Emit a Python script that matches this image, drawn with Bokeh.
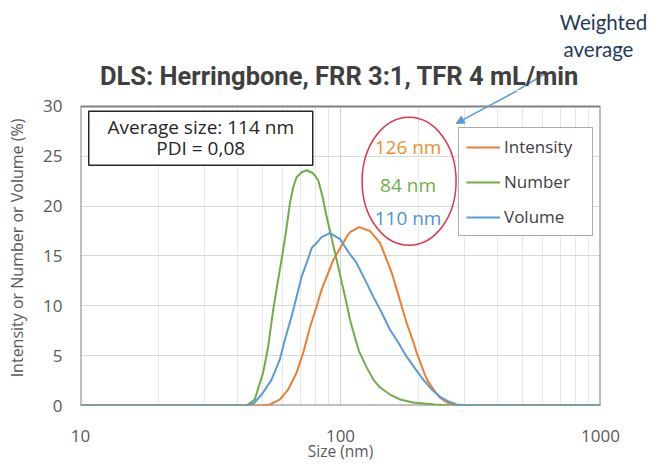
from bokeh.plotting import figure
from bokeh.layouts import column
from bokeh.models import (FixedTicker, NumeralTickFormatter, Label, Arrow, NormalHead,
                          Legend, LegendItem)
from bokeh.embed import file_html
from bokeh.resources import INLINE

# ---- data ----
number_size = [10, 43.5, 46.8, 50.4, 52.7, 55.1, 57.3, 59.3, 61.7, 63.9, 65.8, 67.8, 70.9,
               74.1, 78.5, 82.1, 85.4, 88.5, 96.7, 105.6, 108.8, 113.7, 118, 126.2, 133.8,
               142, 155, 169.6, 190, 230, 264, 1000]
number_pct = [0, 0, 0.6, 3.3, 5.9, 9.6, 12.3, 14.6, 17.4, 20.3, 21.9, 22.9, 23.4,
              23.6, 23.3, 22.6, 20.9, 18.9, 14.6, 10.2, 8.6, 6.8, 5.4, 3.8, 2.6,
              1.8, 1.1, 0.6, 0.3, 0.1, 0, 0]

volume_size = [10, 44, 46.8, 50.4, 54.3, 58.4, 61.1, 64.8, 67.8, 70.8, 74.1, 77.5, 80.9,
               84.5, 91, 99.7, 107.2, 115.3, 124.3, 133.8, 144.1, 155, 167, 179.6, 193.7,
               208, 224.6, 241, 260.4, 280, 320, 1000]
volume_pct = [0, 0, 0.3, 1.3, 2.6, 4.6, 6.6, 8.9, 10.9, 12.9, 14.3, 15.8, 16.3,
              16.9, 17.3, 16.7, 15.4, 14.3, 12.6, 10.9, 9.3, 7.6, 6.3, 4.9, 3.7,
              2.6, 1.6, 0.9, 0.4, 0.1, 0, 0]

intensity_size = [10, 50, 53.5, 58.4, 62.9, 67.8, 71.9, 76.4, 80.9, 84.5, 89.7, 93.8, 99.8,
                  105.6, 108.8, 118, 129.9, 133.8, 142, 150.6, 157.5, 164.8, 172.1, 179.6,
                  188.1, 196.4, 205.5, 215, 227.9, 241, 256.6, 280, 1000]
intensity_pct = [0, 0, 0.1, 0.6, 1.6, 3.3, 5.3, 7.9, 9.9, 11.6, 13.3, 14.6, 15.8,
                 16.9, 17.4, 17.9, 17.5, 17.1, 16.3, 14.6, 13.3, 11.6, 9.9, 8.3,
                 6.8, 5.3, 3.9, 2.6, 1.6, 0.8, 0.3, 0, 0]

x_ticks = [10, 100, 1000]
x_minor = [20, 30, 40, 50, 60, 70, 80, 90, 200, 300, 400, 500, 600, 700, 800, 900]
y_ticks = [0, 5, 10, 15, 20, 25, 30]
y_max = 30

title_text = "DLS: Herringbone, FRR 3:1, TFR 4 mL/min"
box_lines = ["Average size: 114 nm", "PDI = 0,08"]
weighted_labels = ["126 nm", "84 nm", "110 nm"]
callout_lines = ["Weighted", "average"]

C_INT = "#ed7d31"
C_NUM = "#70ad47"
C_VOL = "#5b9bd5"
FONT = "Open Sans"
GRAY = "#595959"
CALLOUT = "#1f3b5c"

TOP_H = 90

# ---------- top strip: title and call-out (pixel coordinates) ----------
top = figure(width=651, height=TOP_H, x_range=(0, 651), y_range=(TOP_H, 0),
             output_backend="svg", toolbar_location=None, title=None,
             min_border=0, x_axis_location=None, y_axis_location=None)
top.frame_align = False
top.grid.visible = False
top.outline_line_color = None
top.background_fill_color = "white"
top.border_fill_color = "white"
top.add_layout(Label(x=339, y=75, text=title_text, text_align="center", text_baseline="middle",
                     text_font="Roboto", text_font_size="25.5px",
                     text_font_style="bold", text_color="#404040"))
top.add_layout(Label(x=603, y=21, text=callout_lines[0], text_align="center", text_baseline="middle",
                     text_font="Lato", text_font_size="20.5px", text_color=CALLOUT))
top.add_layout(Label(x=598, y=48, text=callout_lines[1], text_align="center", text_baseline="middle",
                     text_font="Lato", text_font_size="20.5px", text_color=CALLOUT))
top.segment(x0=[545], y0=[73], x1=[515], y1=[91], line_color=C_VOL, line_width=1.5)

# ---------- main chart (frame extends 16 px above y=30, masked white) ----------
p = figure(width=651, height=464 - TOP_H, x_axis_type="log", x_range=(10, 1000), y_range=(0, 31.6),
           output_backend="svg", toolbar_location=None, title=None,
           min_border_left=80, min_border_right=51, min_border_top=0, min_border_bottom=58)
p.frame_align = False
p.background_fill_color = "white"
p.border_fill_color = "white"
p.outline_line_color = None

p.xaxis.ticker = FixedTicker(ticks=x_ticks, minor_ticks=x_minor)
p.xaxis.formatter = NumeralTickFormatter(format="0")
p.yaxis.ticker = FixedTicker(ticks=y_ticks)
for ax in (p.xaxis[0], p.yaxis[0]):
    ax.axis_line_color = None
    ax.major_tick_line_color = None
    ax.minor_tick_line_color = None
    ax.major_label_text_font = FONT
    ax.major_label_text_font_size = "17px"
    ax.major_label_text_color = GRAY
    ax.axis_label_text_font = FONT
    ax.axis_label_text_font_style = "normal"
    ax.axis_label_text_color = GRAY
p.xaxis.axis_label = "Size (nm)"
p.yaxis.axis_label = "Intensity or Number or Volume (%)"
p.xaxis.axis_label_text_font_size = "15.5px"
p.yaxis.axis_label_text_font_size = "16px"
p.xaxis.major_label_standoff = 18
p.xaxis.axis_label_standoff = -5
p.yaxis.major_label_standoff = 12
p.yaxis.axis_label_standoff = 12

p.xgrid.grid_line_color = "#d0d4da"
p.xgrid.minor_grid_line_color = "#e3e8ef"
p.ygrid.grid_line_color = "#d9d9d9"

# mask above the plot area and draw the plot-area border
p.quad(left=[10], right=[1000], bottom=[y_max], top=[40], fill_color="white", line_color=None)
p.quad(left=[10], right=[1000], bottom=[0], top=[y_max], fill_color=None,
       line_color="#808080", line_width=2)

r_int = p.line(intensity_size, intensity_pct, line_color=C_INT, line_width=2, line_join="round")
r_num = p.line(number_size, number_pct, line_color=C_NUM, line_width=2, line_join="round")
r_vol = p.line(volume_size, volume_pct, line_color=C_VOL, line_width=2, line_join="round")

legend = Legend(items=[LegendItem(label="Intensity", renderers=[r_int]),
                       LegendItem(label="Number", renderers=[r_num]),
                       LegendItem(label="Volume", renderers=[r_vol])],
                location=(378, 169))
legend.margin = 0
legend.padding = 7
legend.spacing = 12
legend.label_height = 20
legend.glyph_height = 20
legend.glyph_width = 34
legend.label_standoff = 4
legend.label_width = 81
legend.label_text_font = FONT
legend.label_text_font_size = "17px"
legend.label_text_color = "#404040"
legend.border_line_color = "#595959"
legend.border_line_width = 1.5
legend.background_fill_alpha = 1
p.add_layout(legend)

# average size box
p.rect(x=[29.0], y=[26.8], width=224, height=54, width_units="screen", height_units="screen",
       fill_color="white", line_color="#262626", line_width=1.5)
p.add_layout(Label(x=29.0, y=27.9, text=box_lines[0], text_align="center", text_baseline="middle",
                   text_font=FONT, text_font_size="19px", text_color="#262626"))
p.add_layout(Label(x=29.0, y=25.8, text=box_lines[1], text_align="center", text_baseline="middle",
                   text_font=FONT, text_font_size="19px", text_color="#262626"))

# weighted averages, ellipse and arrow
p.ellipse(x=[183.6], y=[22.5], width=94, height=128, width_units="screen", height_units="screen",
          fill_color=None, line_color="#e2334a", line_width=1.5)
for txt, yy, col in zip(weighted_labels, [25.9, 22.1, 18.8], ["#e8902c", C_NUM, "#4f93cf"]):
    p.add_layout(Label(x=181.9, y=yy, text=txt, text_align="center", text_baseline="middle",
                       text_font=FONT, text_font_size="19px", text_color=col))
p.add_layout(Arrow(x_start=479.8, y_start=31.6, x_end=278.6, y_end=28.3,
                   line_color=C_VOL, line_width=1.5,
                   end=NormalHead(size=8, fill_color=C_VOL, line_color=C_VOL)))

layout = column(top, p, spacing=0)
open("out.html", "w").write(file_html(layout, INLINE))
